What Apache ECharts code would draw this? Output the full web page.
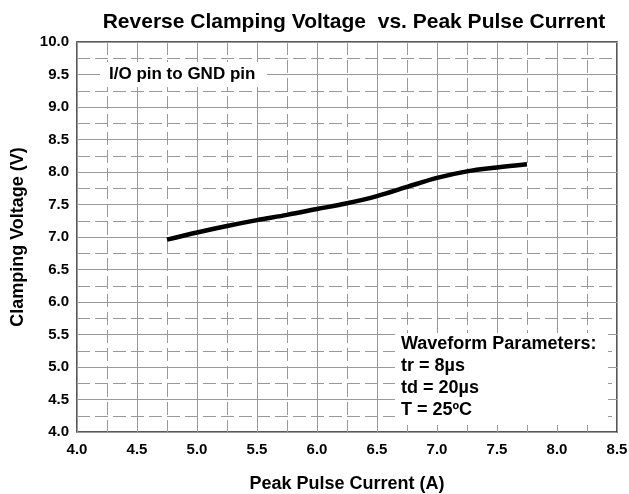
<!DOCTYPE html>
<html>
<head>
<meta charset="utf-8">
<script src="https://cdn.jsdelivr.net/npm/echarts@6/dist/echarts.min.js"></script>
<style>html,body{margin:0;padding:0;background:#fff}#c{width:629px;height:494px}</style>
</head>
<body>
<div id="c"></div>
<script>
const currentA = [4.75, 5.0, 5.25, 5.5, 5.75, 6.0, 6.25, 6.5, 6.75, 7.0, 7.25, 7.5, 7.75];
const clampV   = [6.96, 7.07, 7.17, 7.26, 7.34, 7.43, 7.52, 7.63, 7.77, 7.91, 8.01, 8.07, 8.12];
const titleText = 'Reverse Clamping Voltage  vs. Peak Pulse Current';
const xName = 'Peak Pulse Current (A)';
const yName = 'Clamping Voltage (V)';
const noteTop = 'I/O pin to GND pin';
const noteBox = ['Waveform Parameters:', 'tr = 8\u00b5s', 'td = 20\u00b5s', 'T = 25\u00baC'];

const FF = '"Liberation Sans", Arial, sans-serif';
const chart = echarts.init(document.getElementById('c'), null, {renderer: 'canvas'});
const gridLine = {color: '#999', width: 1};
const minorLine = {color: '#999', width: 1, type: [13, 5]};
const nameStyle = {fontFamily: FF, fontSize: 18, fontWeight: 'bold', color: '#000'};
chart.setOption({
  animation: false,
  backgroundColor: '#fff',
  title: {text: titleText, left: 349, top: 7, textAlign: 'center',
    textStyle: {fontFamily: FF, fontSize: 21, fontWeight: 'bold', color: '#000'}},
  grid: {left: 77, top: 42, right: 12, bottom: 62, show: true, borderColor: '#222', borderWidth: 1.5,
    backgroundColor: 'transparent', containLabel: false, outerBoundsMode: 'none'},
  xAxis: {
    type: 'value', min: 4, max: 8.5, interval: 0.5,
    name: xName, nameLocation: 'middle', nameGap: 43, nameTextStyle: nameStyle,
    axisLine: {show: false}, axisTick: {show: false},
    minorTick: {show: false, splitNumber: 2},
    axisLabel: {fontFamily: FF, fontSize: 15, fontWeight: 'bold', color: '#000', margin: 10, formatter: v => v.toFixed(1)},
    splitLine: {show: true, lineStyle: gridLine},
    minorSplitLine: {show: true, lineStyle: minorLine}
  },
  yAxis: {
    type: 'value', min: 4, max: 10, interval: 0.5,
    name: yName, nameLocation: 'middle', nameGap: 50, nameRotate: 90, nameTextStyle: nameStyle,
    axisLine: {show: false}, axisTick: {show: false},
    minorTick: {show: false, splitNumber: 2},
    axisLabel: {fontFamily: FF, fontSize: 15, fontWeight: 'bold', color: '#000', margin: 8, formatter: v => v.toFixed(1)},
    splitLine: {show: true, lineStyle: gridLine},
    minorSplitLine: {show: true, lineStyle: minorLine}
  },
  series: [{
    type: 'line', data: currentA.map((x, i) => [x, clampV[i]]),
    smooth: 0.35, showSymbol: false, symbol: 'none',
    lineStyle: {color: '#000', width: 4.5}, z: 3
  }],
  graphic: [
    {type: 'rect', left: 100, top: 62, z: 10, shape: {width: 167, height: 25}, style: {fill: '#fff'}},
    {type: 'text', left: 109, top: 66, z: 11, style: {text: noteTop, font: 'bold 17px ' + FF, fill: '#000'}},
    {type: 'rect', left: 395, top: 333, z: 10, shape: {width: 213, height: 92}, style: {fill: '#fff'}},
    {type: 'text', left: 401, top: 333, z: 11, style: {text: noteBox.join('\n'), font: 'bold 18px ' + FF, fill: '#000', lineHeight: 22}}
  ]
});
</script>
</body>
</html>
